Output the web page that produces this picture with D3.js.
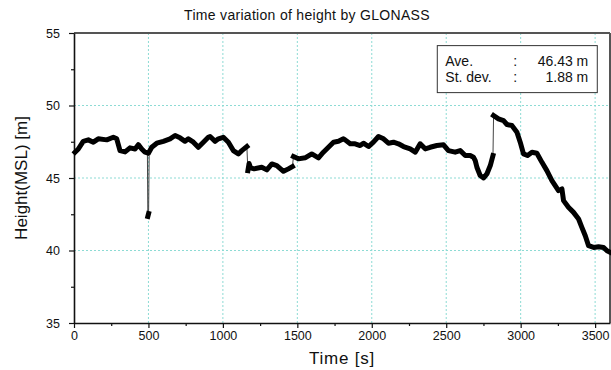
<!DOCTYPE html>
<html>
<head>
<meta charset="utf-8">
<script src="https://cdn.jsdelivr.net/npm/d3@7"></script>
<style>
  body { margin: 0; background: #fff; }
  svg text { font-family: "Liberation Sans", Arial, sans-serif; fill: #111; }
</style>
</head>
<body>
<div id="chart"></div>
<script>
// height samples (time [s], height [m]), split into continuous runs
const run1 = [[7,46.78],[29,47.0],[62,47.53],[96,47.63],[130,47.47],[163,47.7],[220,47.63],[264,47.81],[287,47.7],[309,46.89],[343,46.8],[376,47.08],[410,47.0],[432,47.3],[455,47.0],[477,46.78],[493,46.73]];
const run2 = [[496,42.35],[501,42.55]];
const run3 = [[505,46.8],[522,47.12],[556,47.4],[600,47.53],[645,47.7],[679,47.93],[712,47.77],[746,47.53],[768,47.7],[802,47.47],[835,47.12],[869,47.47],[902,47.81],[914,47.86],[948,47.53],[970,47.7],[1003,47.81],[1037,47.47],[1070,46.89],[1104,46.66],[1127,46.89],[1161,47.17]];
const run4 = [[1168,45.5],[1176,46.0],[1186,45.7],[1210,45.63],[1261,45.74],[1295,45.56],[1329,45.97],[1362,45.86],[1407,45.46],[1440,45.63],[1467,45.79]];
const run5 = [[1474,46.48],[1507,46.32],[1552,46.39],[1597,46.66],[1642,46.39],[1675,46.78],[1709,47.12],[1743,47.47],[1776,47.53],[1810,47.7],[1821,47.63],[1855,47.36],[1888,47.36],[1922,47.24],[1944,47.4],[1978,47.17],[2011,47.47],[2045,47.86],[2079,47.7],[2112,47.4],[2146,47.47],[2179,47.36],[2213,47.17],[2258,47.01],[2292,46.78],[2325,47.36],[2359,47.01],[2392,47.12],[2437,47.24],[2482,47.29],[2515,46.89],[2560,46.78],[2594,46.89],[2628,46.55],[2661,46.55],[2683,46.43],[2695,46.2],[2706,45.74],[2728,45.17],[2751,45.0],[2773,45.28],[2796,45.86],[2814,46.55]];
const run6 = [[2818,49.31],[2851,49.08],[2885,48.96],[2908,48.69],[2941,48.62],[2975,48.16],[2997,47.47],[3019,46.66],[3046,46.55],[3076,46.78],[3109,46.71],[3143,46.08],[3176,45.51],[3210,44.82],[3254,44.13],[3277,44.25],[3288,43.44],[3321,42.98],[3355,42.63],[3389,42.17],[3411,41.6],[3434,41.02],[3456,40.33],[3490,40.21],[3523,40.26],[3557,40.21],[3580,39.98],[3602,39.87]];
const runs = [run1, run2, run3, run4, run5, run6];

const xTicks = [0, 500, 1000, 1500, 2000, 2500, 3000, 3500];
const xMinor = [250, 750, 1250, 1750, 2250, 2750, 3250];
const yTicks = [35, 40, 45, 50, 55];
const yMinor = [37.5, 42.5, 47.5, 52.5];
const gridX = [500, 1000, 1500, 2000, 2500, 3000, 3500];
const gridY = [40, 45, 50];
const statLabels = ["Ave.", "St. dev."];
const statValues = ["46.43 m", "1.88 m"];

const W = 611, H = 370;
const margin = { top: 33, right: 1, bottom: 47, left: 74 };
const iw = W - margin.left - margin.right;
const ih = H - margin.top - margin.bottom;

const svg = d3.select("#chart").append("svg").attr("width", W).attr("height", H);
const g = svg.append("g").attr("transform", `translate(${margin.left},${margin.top})`);

const x = d3.scaleLinear().domain([0, 3600]).range([0, iw]);
const y = d3.scaleLinear().domain([35, 55]).range([ih, 0]);

// grid
const gridColor = "#8ddbd4";
g.append("g").selectAll("line").data(gridX).join("line")
  .attr("x1", d => x(d)).attr("x2", d => x(d)).attr("y1", 0).attr("y2", ih)
  .attr("stroke", gridColor).attr("stroke-width", 1).attr("stroke-dasharray", "2,2");
g.append("g").selectAll("line").data(gridY).join("line")
  .attr("y1", d => y(d)).attr("y2", d => y(d)).attr("x1", 0).attr("x2", iw)
  .attr("stroke", gridColor).attr("stroke-width", 1).attr("stroke-dasharray", "2,2");

// frame top/right
g.append("line").attr("x1", 0).attr("x2", iw).attr("y1", 0).attr("y2", 0)
  .attr("stroke", "#555").attr("stroke-width", 2);
g.append("line").attr("x1", iw).attr("x2", iw).attr("y1", 0).attr("y2", ih)
  .attr("stroke", "#555").attr("stroke-width", 2);

// axes
const xAxis = g.append("g").attr("transform", `translate(0,${ih})`)
  .call(d3.axisBottom(x).tickValues(xTicks).tickSize(5).tickSizeOuter(0).tickPadding(3).tickFormat(d3.format("d")));
const xAxisMinor = g.append("g").attr("transform", `translate(0,${ih})`)
  .call(d3.axisBottom(x).tickValues(xMinor).tickSize(3).tickSizeOuter(0).tickFormat(""));
const yAxis = g.append("g")
  .call(d3.axisLeft(y).tickValues(yTicks).tickSize(5).tickSizeOuter(0).tickPadding(9).tickFormat(d3.format("d")));
const yAxisMinor = g.append("g")
  .call(d3.axisLeft(y).tickValues(yMinor).tickSize(3).tickSizeOuter(0).tickFormat(""));

[xAxis, xAxisMinor, yAxis, yAxisMinor].forEach(a => {
  a.select(".domain").attr("stroke", "#111").attr("stroke-width", 1.6);
  a.selectAll(".tick line").attr("stroke", "#111").attr("stroke-width", 1.2);
  a.selectAll(".tick text").attr("font-size", 12.5).attr("font-family", "Liberation Sans, Arial, sans-serif").attr("fill", "#111");
});
xAxisMinor.select(".domain").remove();
yAxisMinor.select(".domain").remove();

// data
const line = d3.line().x(d => x(d[0])).y(d => y(d[1]));
const all = runs.flat();
g.append("path").datum(all).attr("d", line)
  .attr("fill", "none").attr("stroke", "#444").attr("stroke-width", 1);
g.append("g").selectAll("path").data(runs).join("path")
  .attr("d", line)
  .attr("fill", "none").attr("stroke", "#000").attr("stroke-width", 5)
  .attr("stroke-linejoin", "round").attr("stroke-linecap", "square");

// stats box
const box = g.append("g").attr("transform", `translate(${x(2440)},${y(54.13)})`);
box.append("rect").attr("width", 160).attr("height", 47)
  .attr("fill", "#fff").attr("stroke", "#333").attr("stroke-width", 1);
statLabels.forEach((lab, i) => {
  const ty = 20 + i * 16.5;
  box.append("text").attr("x", 8).attr("y", ty).attr("font-size", 14).text(lab);
  box.append("text").attr("x", 76).attr("y", ty).attr("font-size", 14).text(":");
  box.append("text").attr("x", 151).attr("y", ty).attr("font-size", 14)
    .attr("text-anchor", "end").text(statValues[i]);
});

// titles
svg.append("text").attr("x", 307).attr("y", 20).attr("text-anchor", "middle")
  .attr("font-size", 14).attr("letter-spacing", 0.3).text("Time variation of height by GLONASS");
svg.append("text").attr("x", margin.left + iw / 2).attr("y", 364).attr("text-anchor", "middle")
  .attr("font-size", 17).attr("letter-spacing", 0.8).text("Time [s]");
svg.append("text")
  .attr("transform", `translate(27,${margin.top + ih / 2}) rotate(-90)`)
  .attr("text-anchor", "middle").attr("font-size", 17).text("Height(MSL) [m]");
</script>
</body>
</html>
